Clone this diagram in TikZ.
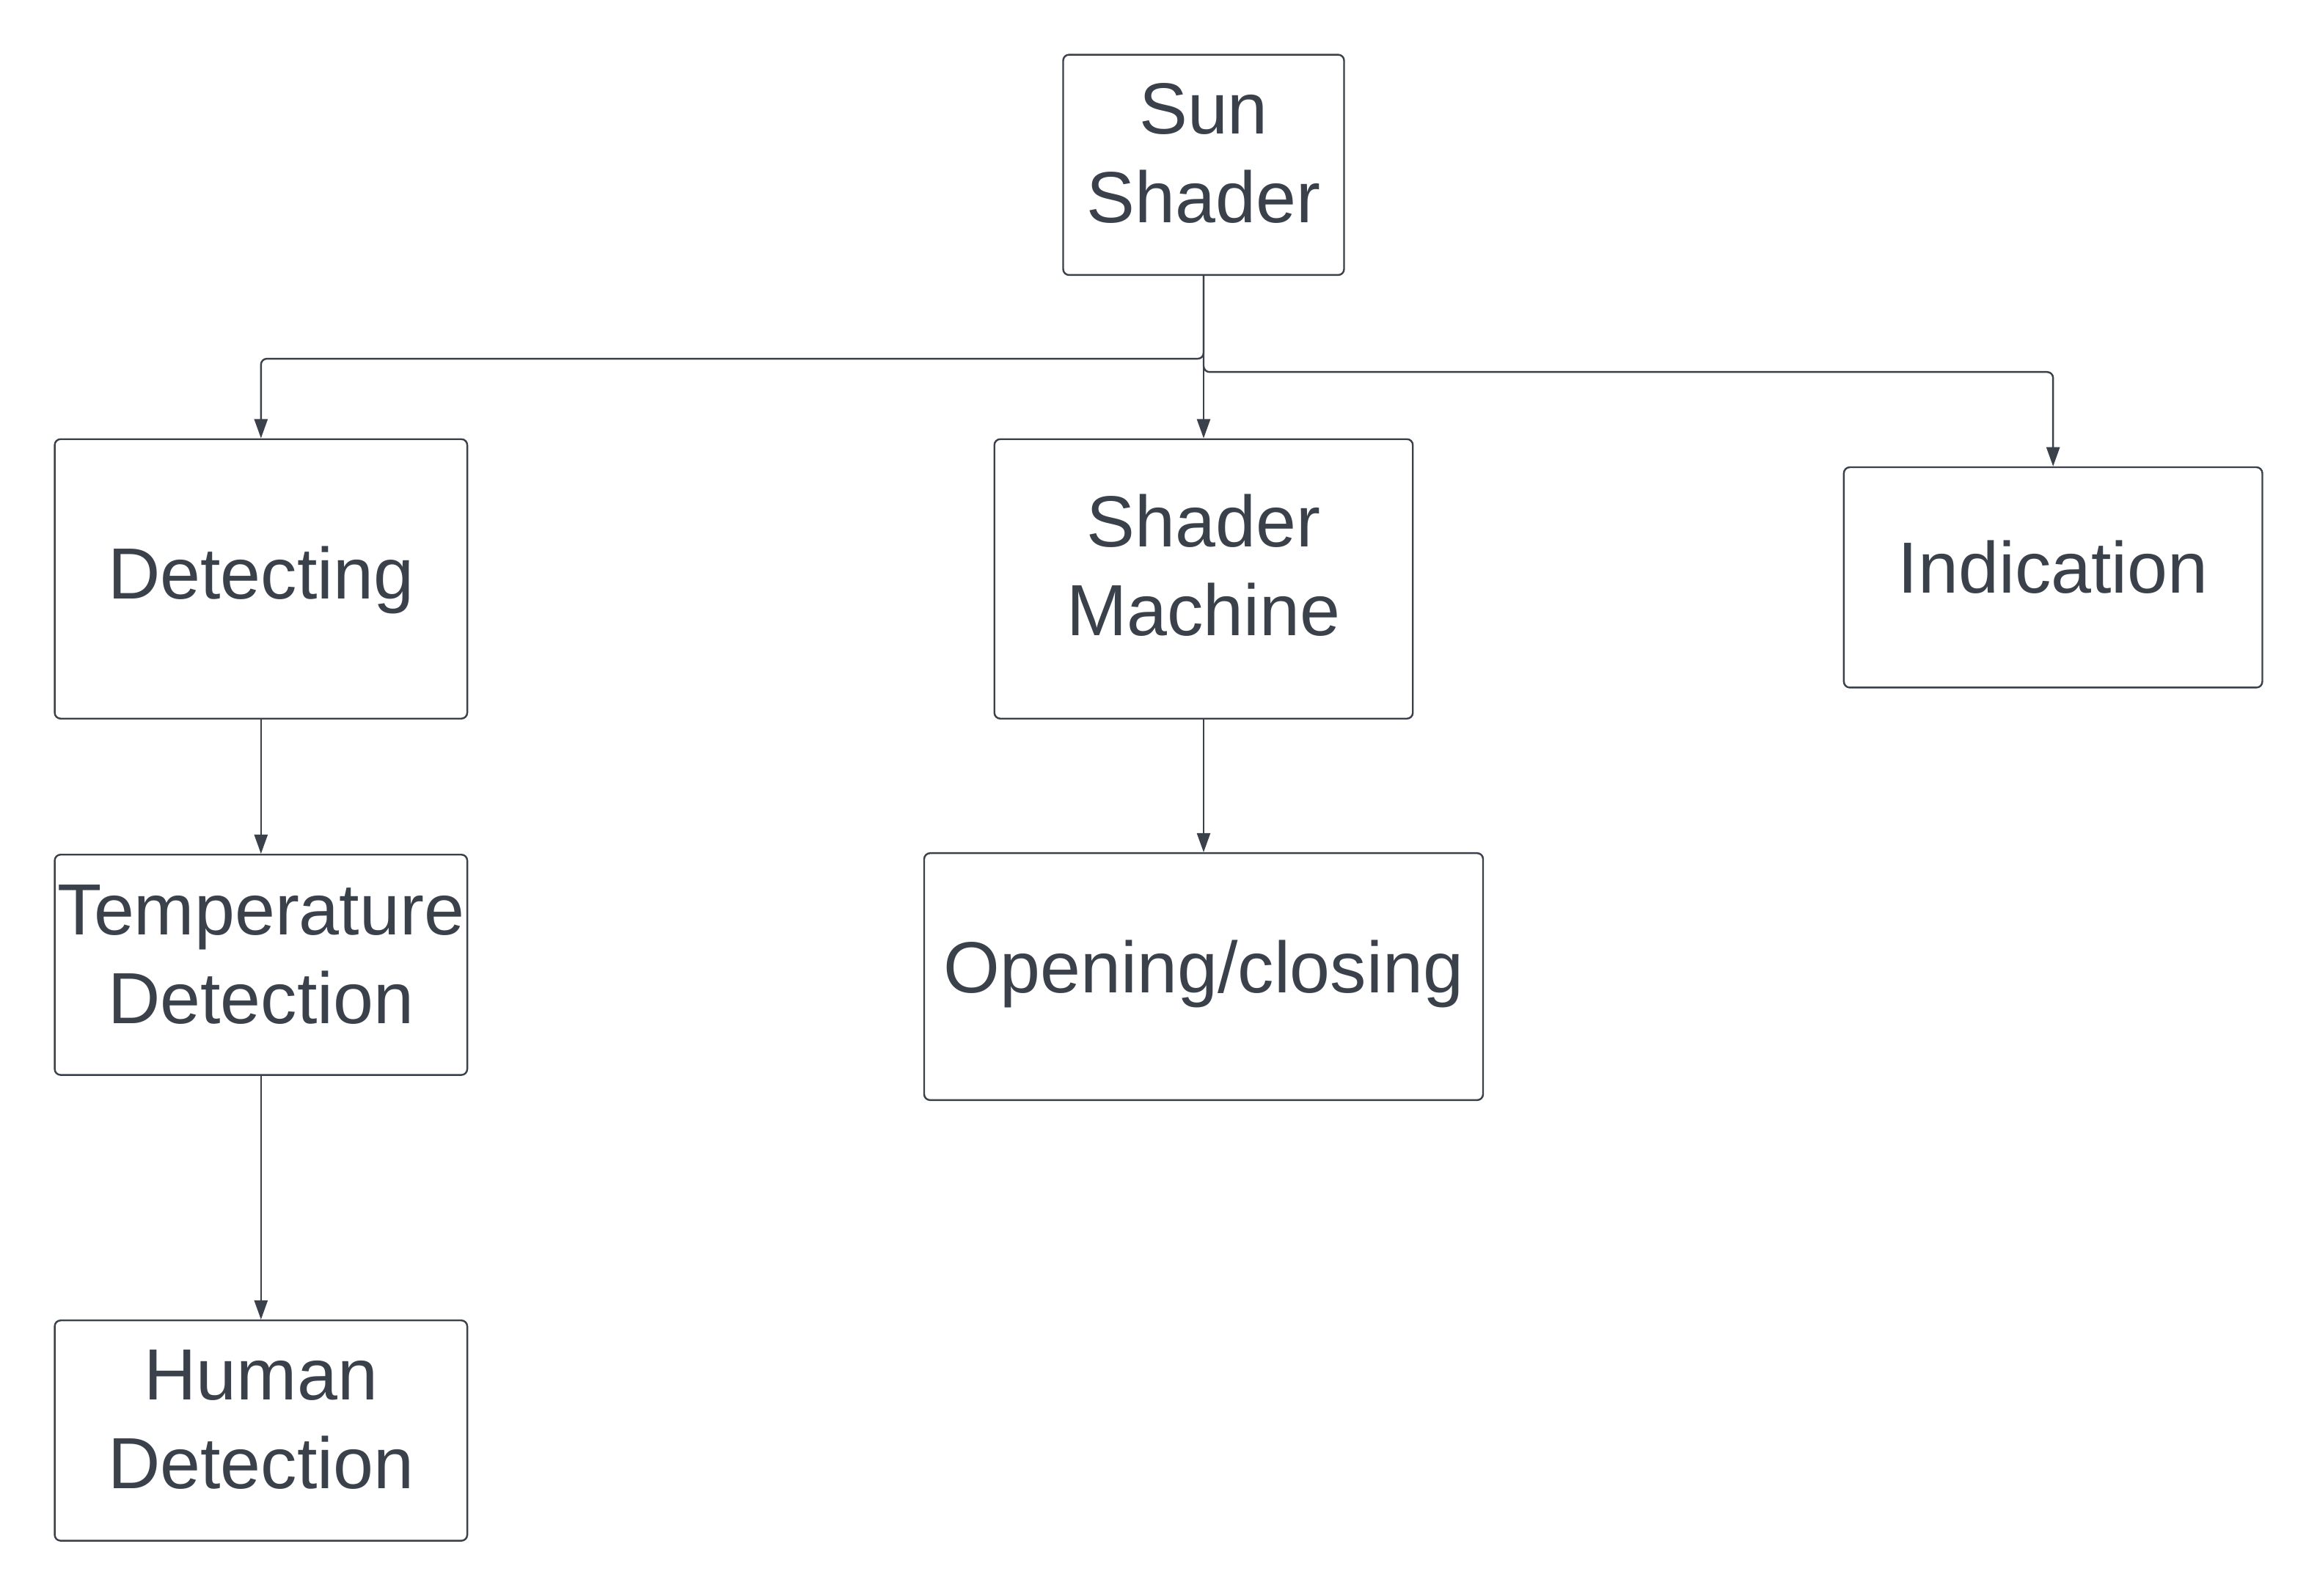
\documentclass[tikz,border=0pt]{standalone}
\usepackage{fontspec}
\setmainfont{Liberation Sans}
\usetikzlibrary{arrows.meta}
\definecolor{ink}{HTML}{3A414A}
\begin{document}
\begin{tikzpicture}[x=0.5pt,y=-0.5pt,
  box/.style={draw=ink,line width=0.6pt,rounded corners=2pt,inner sep=0pt},
  txt/.style={align=center,text=ink,inner sep=0pt,font=\fontsize{24.5pt}{30pt}\selectfont},
  arr/.style={draw=ink,line width=0.6pt,-{Triangle[length=6.5pt,width=4.5pt]}}]
\useasboundingbox[fill=white] (0,0) rectangle (1567,1079);
\node[box,minimum width=95pt,minimum height=74.5pt] (sun) at (814,111.5) {};
\node[box,minimum width=139.5pt,minimum height=94.5pt] (det) at (176.5,391.5) {};
\node[box,minimum width=141.5pt,minimum height=94.5pt] (sm) at (814,391.5) {};
\node[box,minimum width=141.5pt,minimum height=74.5pt] (ind) at (1388.5,390.5) {};
\node[box,minimum width=139.5pt,minimum height=74.5pt] (temp) at (176.5,652.5) {};
\node[box,minimum width=189pt,minimum height=83.5pt] (oc) at (814,660.5) {};
\node[box,minimum width=139.5pt,minimum height=74.5pt] (hum) at (176.5,967.5) {};
\node[txt] (sunt) at ([yshift=4pt]sun.center) {Sun\\Shader};
\node[txt] (dett) at ([yshift=-0.5pt]det.center) {Detecting};
\node[txt] (smt) at ([yshift=4.5pt]sm.center) {Shader\\Machine};
\node[txt] (indt) at ([yshift=3.5pt]ind.center) {Indication};
\node[txt] (tempt) at ([yshift=3.5pt]temp.center) {Temperature\\Detection};
\node[txt] (oct) at ([yshift=1pt]oc.center) {Opening/closing};
\node[txt] (humt) at ([yshift=3.8pt]hum.center) {Human\\Detection};
\draw[arr] (sun.south) -- (sun.south |- sm.north);
\draw[arr,rounded corners=2pt] (sun.south) -- ++(0,56) -| (det.north);
\draw[arr,rounded corners=2pt] (sun.south) -- ++(0,65) -| (ind.north);
\draw[arr] (det.south) -- (temp.north);
\draw[arr] (temp.south) -- (hum.north);
\draw[arr] (sm.south) -- (oc.north);
\end{tikzpicture}
\end{document}
